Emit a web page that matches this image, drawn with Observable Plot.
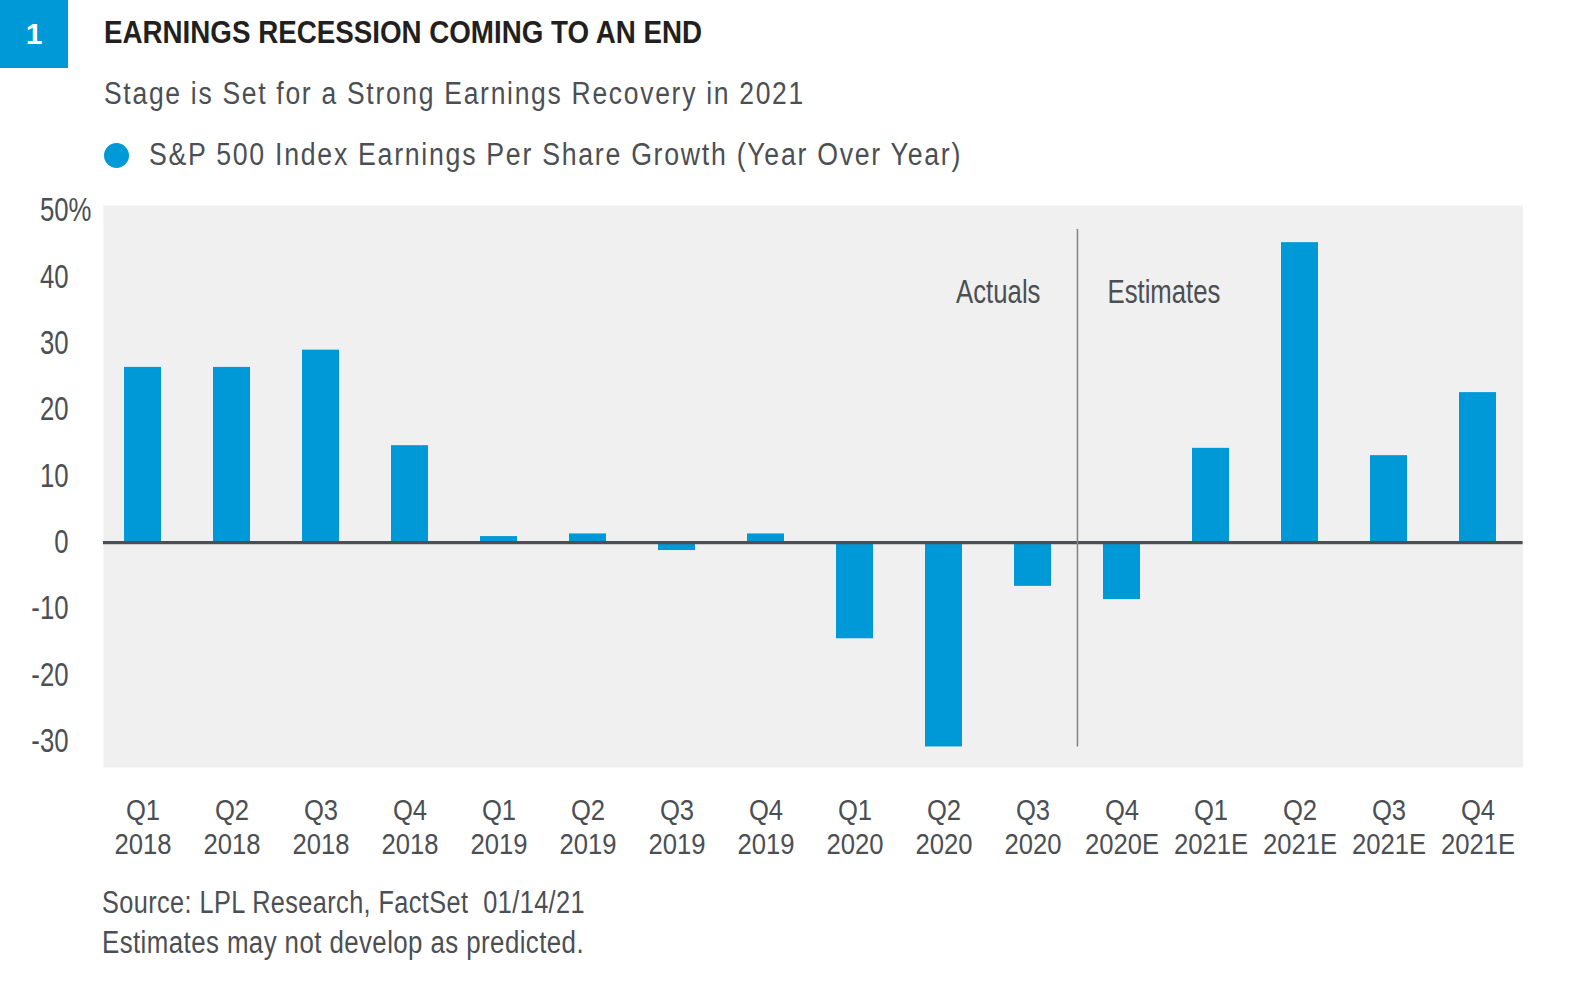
<!DOCTYPE html>
<html>
<head>
<meta charset="utf-8">
<script src="https://cdn.jsdelivr.net/npm/d3@7"></script>
<script src="https://cdn.jsdelivr.net/npm/@observablehq/plot@0.6"></script>
<style>
  html, body { margin: 0; padding: 0; background: #fff; }
  body { width: 1576px; height: 986px; position: relative; overflow: hidden;
         font-family: "Liberation Sans", Arial, sans-serif; color: #4b4f54; }
  .abs { position: absolute; white-space: pre; line-height: 1; transform-origin: 0 0; }
  #badge { left: 0; top: 0; width: 68px; height: 68px; background: #0099d8; color: #fff;
           font-weight: bold; font-size: 30px;
           display: flex; align-items: center; justify-content: center; }
  #title { left: 104px; top: 16px; font-weight: bold; font-size: 32px; color: #231f20; }
  #subtitle { left: 104px; top: 78px; font-size: 31px; letter-spacing: 2px; }
  #dot { left: 104px; top: 143px; width: 25px; height: 25px; border-radius: 50%; background: #0099d8; }
  #legend { left: 149px; top: 139px; font-size: 31px; letter-spacing: 2px; }
  #chart { left: 0; top: 180px; }
  #cap1 { left: 102px; top: 887px; font-size: 31px; letter-spacing: 0.5px; }
  #cap2 { left: 102px; top: 927px; font-size: 31px; letter-spacing: 0.5px; }
</style>
</head>
<body>
<div id="badge" class="abs">1</div>
<div id="title" class="abs">EARNINGS RECESSION COMING TO AN END</div>
<div id="subtitle" class="abs">Stage is Set for a Strong Earnings Recovery in 2021</div>
<div id="dot" class="abs"></div>
<div id="legend" class="abs">S&amp;P 500 Index Earnings Per Share Growth (Year Over Year)</div>
<div id="chart" class="abs"></div>
<div id="cap1" class="abs">Source: LPL Research, FactSet  01/14/21</div>
<div id="cap2" class="abs">Estimates may not develop as predicted.</div>
<script>
// Data
const quarters = ["Q1 2018","Q2 2018","Q3 2018","Q4 2018","Q1 2019","Q2 2019","Q3 2019","Q4 2019",
                  "Q1 2020","Q2 2020","Q3 2020","Q4 2020E","Q1 2021E","Q2 2021E","Q3 2021E","Q4 2021E"];
const epsGrowth = [26.4, 26.4, 29.0, 14.6, 0.9, 1.3, -1.2, 1.3,
                   -14.5, -30.8, -6.6, -8.6, 14.2, 45.2, 13.1, 22.6];
const yTicks = [-30, -20, -10, 0, 10, 20, 30, 40, 50];
const dividerAt = "Q4 2020E";
const dividerSpan = [-30.8, 47.2];
const sectionLabels = ["Actuals", "Estimates"];
const sectionLabelY = 37.7;

const data = quarters.map((q, i) => ({q, v: epsGrowth[i]}));

const W = 1576, H = 690;
const mL = 97.5, mR = 53.4, mT = 25, mB = 103;
const step = (W - mL - mR) / quarters.length;
const textColor = "#4b4f54";

const chart = Plot.plot({
  width: W, height: H,
  marginLeft: mL, marginRight: mR, marginTop: mT, marginBottom: mB,
  style: {fontFamily: '"Liberation Sans", Arial, sans-serif', fontSize: "32px", color: textColor, background: "transparent", overflow: "visible"},
  x: {domain: quarters, paddingInner: 0.584, paddingOuter: 0.292, align: 0.5, label: null},
  y: {domain: [-33.9, 50.8], label: null},
  marks: [
    Plot.frame({fill: "#f0f0f0", stroke: null, insetLeft: 5.5}),
    Plot.barY(data, {x: "q", y: "v", fill: "#0099d8"}),
    Plot.ruleY([0], {stroke: "#4b4f54", strokeWidth: 3.3, insetLeft: 5.5}),
    Plot.ruleX([dividerAt], {x: d => d, y1: dividerSpan[0], y2: dividerSpan[1], dx: -step / 2, stroke: "#808285", strokeWidth: 1.5}),
    Plot.text([sectionLabels[0]], {x: () => dividerAt, y: () => sectionLabelY, text: d => d, dx: -step / 2 - 37, textAnchor: "end", fill: textColor, fontSize: 33, className: "cond"}),
    Plot.text([sectionLabels[1]], {x: () => dividerAt, y: () => sectionLabelY, text: d => d, dx: -step / 2 + 30, textAnchor: "start", fill: textColor, fontSize: 33, className: "cond"}),
    Plot.axisY({ticks: yTicks, tickSize: 0, tickPadding: 29.5, tickFormat: d => String(d), fontSize: 33, className: "cond"}),
    Plot.text([50], {y: d => d, text: () => "%", frameAnchor: "left", dx: -29.5, textAnchor: "start", fill: textColor, fontSize: 33, className: "cond"}),
    Plot.axisX({tickSize: 0, tickPadding: 28.7, tickFormat: d => d.replace(" ", "\n"), fontSize: 30, lineHeight: 1.12, className: "xlab"})
  ]
});
document.getElementById("chart").appendChild(chart);

// condense SVG text horizontally around its anchor point (reference uses a condensed face)
function condense(sel, sx) {
  chart.querySelectorAll(sel).forEach(t => {
    const x = +(t.getAttribute("x") || 0);
    const tr = t.getAttribute("transform") || "";
    t.setAttribute("transform", `${tr} translate(${x},0) scale(${sx},1) translate(${-x},0)`);
  });
}
condense(".cond text, text.cond", 0.78);
condense(".xlab text, text.xlab", 0.855);

// condense HTML text to the reference widths
function fit(id, target) {
  const el = document.getElementById(id);
  const w = el.getBoundingClientRect().width;
  el.style.transform = `scaleX(${target / w})`;
}
fit("title", 598);
fit("subtitle", 701);
fit("legend", 813);
fit("cap1", 483);
fit("cap2", 482);
</script>
</body>
</html>
